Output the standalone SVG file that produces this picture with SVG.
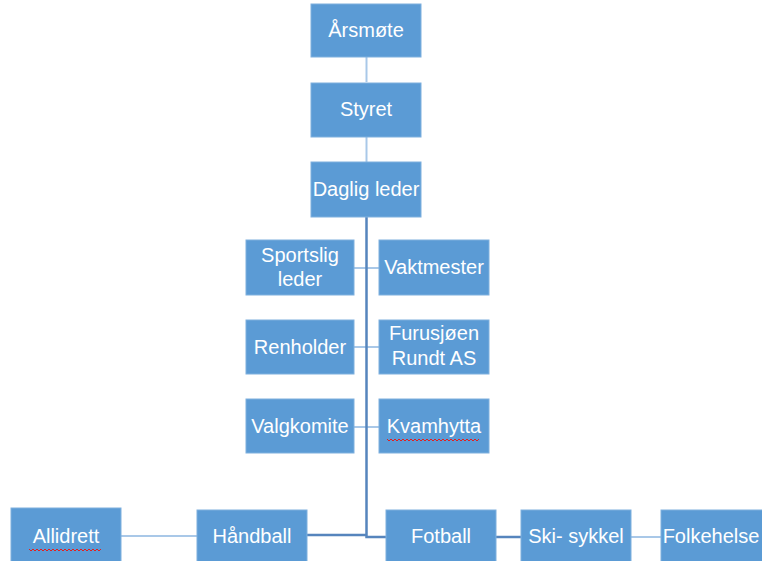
<svg xmlns="http://www.w3.org/2000/svg" width="762" height="561" viewBox="0 0 762 561">
<style>
.box{fill:#5B9BD5;stroke:#7FB0DE;stroke-width:1}
.t{fill:#FFFFFF;font-family:"Liberation Sans","Open Sans",sans-serif;font-size:20px;text-anchor:middle}
.lt{stroke:#A9C8E8;stroke-width:2;fill:none}
.dk{stroke:#5685BD;stroke-width:2.5;fill:none}
.sq{stroke:#E02020;stroke-width:1;fill:none}
</style>
<rect width="762" height="561" fill="#FFFFFF"/>
<g id="connectors">
<line class="lt" x1="366.5" y1="57" x2="366.5" y2="82"/>
<line class="lt" x1="366.5" y1="137" x2="366.5" y2="162"/>
<line class="lt" x1="354" y1="268" x2="379" y2="268"/>
<line class="lt" x1="354" y1="347" x2="379" y2="347"/>
<line class="lt" x1="354" y1="427" x2="379" y2="427"/>
<line class="lt" x1="121" y1="536" x2="197" y2="536"/>
<line class="lt" x1="631" y1="537" x2="661" y2="537"/>
<polyline class="dk" points="366.5,217 366.5,537 386,537"/>
<line class="dk" x1="307" y1="535" x2="366.5" y2="535"/>
<line class="dk" x1="496" y1="537" x2="521" y2="537"/>
</g>
<g id="arsmote"><rect class="box" x="311" y="4" width="110" height="53"/><text class="t" x="366" y="37">Årsmøte</text></g>
<g id="styret"><rect class="box" x="311" y="83" width="110" height="54"/><text class="t" x="366" y="116">Styret</text></g>
<g id="daglig-leder"><rect class="box" x="311" y="162" width="110" height="55"/><text class="t" x="366" y="196">Daglig leder</text></g>
<g id="sportslig-leder"><rect class="box" x="246" y="240" width="108" height="55"/><text class="t" x="300" y="262">Sportslig</text><text class="t" x="300" y="286">leder</text></g>
<g id="vaktmester"><rect class="box" x="379" y="240" width="110" height="55"/><text class="t" x="434" y="274">Vaktmester</text></g>
<g id="renholder"><rect class="box" x="246" y="320" width="108" height="54"/><text class="t" x="300" y="354">Renholder</text></g>
<g id="furusjoen"><rect class="box" x="379" y="320" width="110" height="54"/><text class="t" x="434" y="340">Furusjøen</text><text class="t" x="434" y="365">Rundt AS</text></g>
<g id="valgkomite"><rect class="box" x="246" y="399" width="108" height="54"/><text class="t" x="300" y="433">Valgkomite</text></g>
<g id="kvamhytta"><rect class="box" x="379" y="399" width="110" height="54"/><text class="t" x="434" y="433">Kvamhytta</text><path class="sq" d="M387 439 l2 2 l2 -2 l2 2 l2 -2 l2 2 l2 -2 l2 2 l2 -2 l2 2 l2 -2 l2 2 l2 -2 l2 2 l2 -2 l2 2 l2 -2 l2 2 l2 -2 l2 2 l2 -2 l2 2 l2 -2 l2 2 l2 -2 l2 2 l2 -2 l2 2 l2 -2 l2 2 l2 -2 l2 2 l2 -2 l2 2 l2 -2 l2 2 l2 -2 l2 2 l2 -2 l2 2 l2 -2 l2 2 l2 -2 l2 2 l2 -2 l2 2 l2 -2"/></g>
<g id="allidrett"><rect class="box" x="11" y="508" width="110" height="60"/><text class="t" x="66" y="543">Allidrett</text><path class="sq" d="M29 549 l2 2 l2 -2 l2 2 l2 -2 l2 2 l2 -2 l2 2 l2 -2 l2 2 l2 -2 l2 2 l2 -2 l2 2 l2 -2 l2 2 l2 -2 l2 2 l2 -2 l2 2 l2 -2 l2 2 l2 -2 l2 2 l2 -2 l2 2 l2 -2 l2 2 l2 -2 l2 2 l2 -2 l2 2 l2 -2 l2 2 l2 -2 l2 2 l2 -2"/></g>
<g id="handball"><rect class="box" x="197" y="510" width="110" height="60"/><text class="t" x="252" y="543">Håndball</text></g>
<g id="fotball"><rect class="box" x="386" y="510" width="110" height="60"/><text class="t" x="441" y="543">Fotball</text></g>
<g id="ski-sykkel"><rect class="box" x="521" y="510" width="110" height="60"/><text class="t" x="576" y="543">Ski- sykkel</text></g>
<g id="folkehelse"><rect class="box" x="661" y="510" width="110" height="60"/><text class="t" x="711" y="543">Folkehelse</text></g>
</svg>
